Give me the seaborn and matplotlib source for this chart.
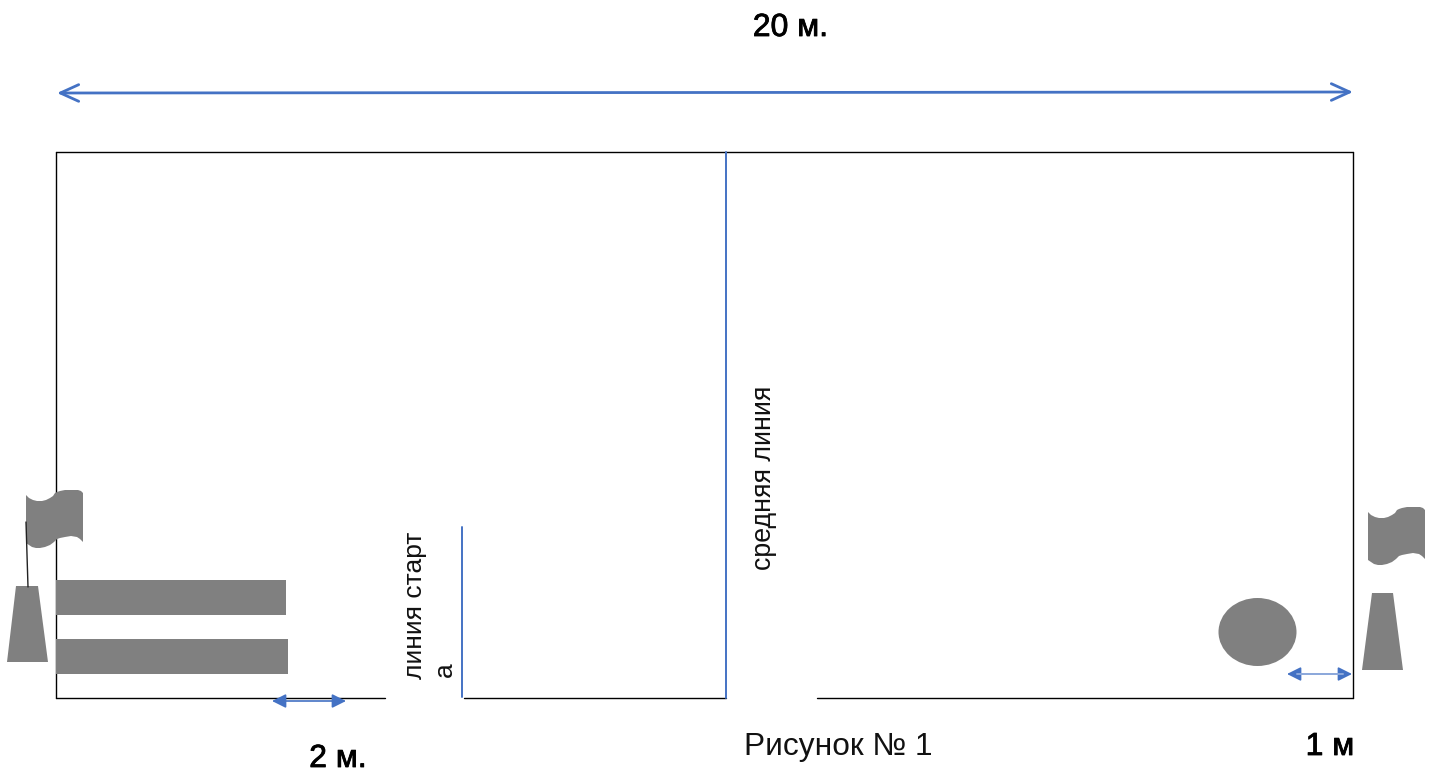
import numpy as np
import pandas as pd
import matplotlib.pyplot as plt
from matplotlib.patches import Ellipse
import matplotlib.patheffects as pe
import seaborn as sns

border_x = [[56, 1353], [56, 56], [1353, 1353], [56, 385], [464, 726], [817, 1353]]
border_y = [[152, 152], [152, 698], [152, 698], [698, 698], [698, 698], [698, 698]]

blue_x = [[726, 726], [462, 462]]
blue_y = [[152, 698], [527, 697]]

mats_x = [56, 56]
mats_y = [580, 639]
mats_w = [230, 232]
mats_h = [35, 35]

cone_x = [[16, 38, 48, 7], [1372, 1393, 1403, 1362]]
cone_y = [[586, 586, 662, 662], [593, 593, 670, 670]]

flag_x = [26, 29, 33, 37, 42, 46, 50, 53, 55, 57, 60, 65, 72, 78, 81, 83,
          83, 80, 77, 71, 65, 60, 57, 54, 50, 45, 40, 36, 32, 29, 26]
flag_y = [495, 498, 500, 501, 501, 500, 498, 496, 493, 492, 491, 490, 490, 490, 491, 493,
          542, 539, 537, 536, 537, 538, 539, 542, 545, 547, 548, 548, 547, 545, 543]
flag_shift = [[0, 0], [1342, 17]]

pole_x = [26, 28]
pole_y = [522, 587]

ball = (1257.5, 632, 78, 68)

blue = "#4472c4"
light_blue = "#8faadc"
grey = "#808080"

sns.set_theme(style="white")
plt.rcParams['font.family'] = ['Liberation Sans', 'DejaVu Sans']

fig, ax = plt.subplots(figsize=(14.3, 7.75), dpi=100)
fig.subplots_adjust(0, 0, 1, 1)

# field outline and the blue lines
for xs, ys in zip(border_x, border_y):
    d = pd.DataFrame({"x": xs, "y": ys})
    sns.lineplot(data=d, x="x", y="y", color="black", linewidth=1.0, sort=False, estimator=None, ax=ax)
for xs, ys in zip(blue_x, blue_y):
    d = pd.DataFrame({"x": xs, "y": ys})
    sns.lineplot(data=d, x="x", y="y", color=blue, linewidth=1.4, sort=False, estimator=None, ax=ax)
ax.set_xlim(0, 1430)
ax.set_ylim(775, 0)
ax.axis("off")

# mats
for x, y, w, h in zip(mats_x, mats_y, mats_w, mats_h):
    ax.fill([x, x + w, x + w, x], [y, y, y + h, y + h], color=grey, lw=0, zorder=3)

# cones and flags
for xs, ys in zip(cone_x, cone_y):
    ax.fill(xs, ys, color=grey, lw=0, zorder=3)
for dx, dy in flag_shift:
    ax.fill(np.array(flag_x) + dx, np.array(flag_y) + dy, color=grey, lw=0, zorder=3)
ax.plot(pole_x, pole_y, color="#222222", lw=1.0, zorder=4)

# ball
ax.add_patch(Ellipse(ball[:2], ball[2], ball[3], color=grey, lw=0, zorder=3))

# distance arrows
ax.annotate("", xy=(57, 93), xytext=(1353, 92),
            arrowprops=dict(arrowstyle="<->,head_length=1.1,head_width=0.5",
                            color=blue, lw=2, shrinkA=0, shrinkB=0))
for x0, x1, y in [(272, 346, 701), (1287, 1352, 674)]:
    ax.annotate("", xy=(x0, y), xytext=(x1, y),
                arrowprops=dict(arrowstyle="<|-|>,head_length=0.6,head_width=0.3",
                                color=blue, lw=1.2, shrinkA=0, shrinkB=0, mutation_scale=14))
ax.plot([1297, 1343], [674, 674], color=light_blue, lw=1.4, zorder=5)

# labels
bold = [pe.withStroke(linewidth=0.6, foreground="black")]
ax.text(790.5, 28, "20 м.", fontsize=23, ha="center", va="center", color="black", path_effects=bold)
ax.text(338, 759, "2 м.", fontsize=23, ha="center", va="center", color="black", path_effects=bold)
ax.text(1330, 747, "1 м", fontsize=23, ha="center", va="center", color="black", path_effects=bold)
ax.text(838, 747, "Рисунок № 1", fontsize=22.8, ha="center", va="center", color="#111111")
ax.text(764, 477.5, "средняя линия", fontsize=19.3, rotation=90, ha="center", va="center", color="#111111")
ax.text(415, 605, "линия старт", fontsize=19, rotation=90, ha="center", va="center", color="#111111")
ax.text(445, 670, "а", fontsize=19, rotation=90, ha="center", va="center", color="#111111")

fig.savefig("out.png", dpi=100)
